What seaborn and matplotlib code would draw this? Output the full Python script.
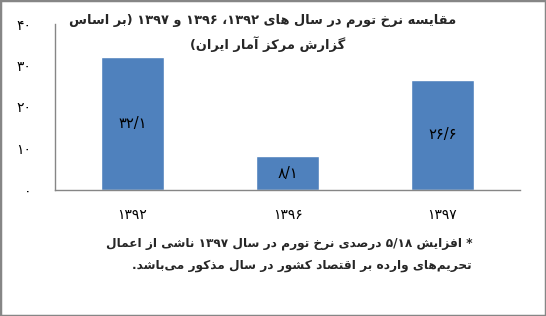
import re
import matplotlib
matplotlib.use("Agg")
import matplotlib.pyplot as plt
from matplotlib.patches import Rectangle
import seaborn as sns

# ---------------- data ----------------
years = ["۱۳۹۲", "۱۳۹۶", "۱۳۹۷"]
rates = [32.1, 8.1, 26.6]
y_ticks = [0, 10, 20, 30, 40]
title_lines = ["مقایسه نرخ تورم در سال های ۱۳۹۲، ۱۳۹۶ و ۱۳۹۷ (بر اساس",
               "گزارش مرکز آمار ایران)"]
note_lines = ["* افزایش ۵/۱۸ درصدی نرخ تورم در سال ۱۳۹۷ ناشی از اعمال",
              "تحریم\u200cهای وارده بر اقتصاد کشور در سال مذکور می\u200cباشد."]

# ---------------- Persian shaping (presentation forms) + simple RTL ----------------
FORMS = {
    "\u0627": ("\uFE8D", "\uFE8E", None, None),
    "\u0622": ("\uFE81", "\uFE82", None, None),
    "\u0628": ("\uFE8F", "\uFE90", "\uFE91", "\uFE92"),
    "\u067E": ("\uFB56", "\uFB57", "\uFB58", "\uFB59"),
    "\u062A": ("\uFE95", "\uFE96", "\uFE97", "\uFE98"),
    "\u062B": ("\uFE99", "\uFE9A", "\uFE9B", "\uFE9C"),
    "\u062C": ("\uFE9D", "\uFE9E", "\uFE9F", "\uFEA0"),
    "\u0686": ("\uFB7A", "\uFB7B", "\uFB7C", "\uFB7D"),
    "\u062D": ("\uFEA1", "\uFEA2", "\uFEA3", "\uFEA4"),
    "\u062E": ("\uFEA5", "\uFEA6", "\uFEA7", "\uFEA8"),
    "\u062F": ("\uFEA9", "\uFEAA", None, None),
    "\u0630": ("\uFEAB", "\uFEAC", None, None),
    "\u0631": ("\uFEAD", "\uFEAE", None, None),
    "\u0632": ("\uFEAF", "\uFEB0", None, None),
    "\u0698": ("\uFB8A", "\uFB8B", None, None),
    "\u0633": ("\uFEB1", "\uFEB2", "\uFEB3", "\uFEB4"),
    "\u0634": ("\uFEB5", "\uFEB6", "\uFEB7", "\uFEB8"),
    "\u0635": ("\uFEB9", "\uFEBA", "\uFEBB", "\uFEBC"),
    "\u0636": ("\uFEBD", "\uFEBE", "\uFEBF", "\uFEC0"),
    "\u0637": ("\uFEC1", "\uFEC2", "\uFEC3", "\uFEC4"),
    "\u0638": ("\uFEC5", "\uFEC6", "\uFEC7", "\uFEC8"),
    "\u0639": ("\uFEC9", "\uFECA", "\uFECB", "\uFECC"),
    "\u063A": ("\uFECD", "\uFECE", "\uFECF", "\uFED0"),
    "\u0641": ("\uFED1", "\uFED2", "\uFED3", "\uFED4"),
    "\u0642": ("\uFED5", "\uFED6", "\uFED7", "\uFED8"),
    "\u06A9": ("\uFB8E", "\uFB8F", "\uFB90", "\uFB91"),
    "\u06AF": ("\uFB92", "\uFB93", "\uFB94", "\uFB95"),
    "\u0644": ("\uFEDD", "\uFEDE", "\uFEDF", "\uFEE0"),
    "\u0645": ("\uFEE1", "\uFEE2", "\uFEE3", "\uFEE4"),
    "\u0646": ("\uFEE5", "\uFEE6", "\uFEE7", "\uFEE8"),
    "\u0648": ("\uFEED", "\uFEEE", None, None),
    "\u0647": ("\uFEE9", "\uFEEA", "\uFEEB", "\uFEEC"),
    "\u06CC": ("\uFBFC", "\uFBFD", "\uFBFE", "\uFBFF"),
}


def shape(s):
    out = []
    n = len(s)
    for i, c in enumerate(s):
        if c not in FORMS:
            out.append(c)
            continue
        prev = s[i - 1] if i > 0 else None
        nxt = s[i + 1] if i + 1 < n else None
        iso, fin, ini, med = FORMS[c]
        jp = prev in FORMS and FORMS[prev][2] is not None
        jn = ini is not None and nxt in FORMS
        if jp and jn:
            out.append(med)
        elif jp:
            out.append(fin)
        elif jn:
            out.append(ini)
        else:
            out.append(iso)
    return "".join(out).replace("\u200c", "")


MIRROR = {"(": ")", ")": "("}


def rtl(s):
    shaped = shape(s)
    toks = re.findall(r"[0-9\u06F0-\u06F9]+(?:[/.][0-9\u06F0-\u06F9]+)*|.", shaped, flags=re.S)
    toks = [MIRROR.get(t, t) for t in toks]
    return "".join(reversed(toks))


FA_DIGITS = str.maketrans("0123456789.", "۰۱۲۳۴۵۶۷۸۹/")


def fa_num(v, fmt="{:g}"):
    return fmt.format(v).translate(FA_DIGITS)


# ---------------- plot ----------------
sns.set_theme(style="white")
plt.rcParams["font.family"] = ["DejaVu Sans"]

grey = "#868686"
fig = plt.figure(figsize=(5.46, 3.16), dpi=100)
ax = fig.add_axes([55 / 546, 1 - 190 / 316, 465 / 546, 166 / 316])

sns.barplot(x=years, y=rates, color="#4F81BD", saturation=1, width=0.41, ax=ax)

ax.set_xlim(-0.5, len(years) - 0.5)
ax.set_ylim(y_ticks[0], y_ticks[-1])
ax.set_yticks(y_ticks)
ax.set_yticklabels([fa_num(t) for t in y_ticks], fontsize=10, color="black")
ax.set_xticks(range(len(years)))
ax.set_xticklabels([rtl(y) for y in years], fontsize=10, color="black")
ax.set_xticks([i - 0.5 for i in range(len(years) + 1)], minor=True)
ax.tick_params(axis="x", which="major", length=0, pad=13)
ax.tick_params(axis="x", which="minor", length=4, width=1, color=grey, direction="out")
ax.tick_params(axis="y", which="major", length=4, width=1, color=grey, direction="out", pad=13)
ax.set_xlabel("")
ax.set_ylabel("")
for side in ("top", "right"):
    ax.spines[side].set_visible(False)
for side in ("left", "bottom"):
    ax.spines[side].set_color(grey)
    ax.spines[side].set_linewidth(1)
ax.grid(False)

ax.bar_label(ax.containers[0], labels=[fa_num(v, "{:.1f}") for v in rates],
             label_type="center", fontsize=10.5, color="black")

fig.text(263 / 546, 1 - 20 / 316, rtl(title_lines[0]), ha="center", va="center",
         fontsize=9.4, fontweight="bold")
fig.text(268 / 546, 1 - 44 / 316, rtl(title_lines[1]), ha="center", va="center",
         fontsize=9.4, fontweight="bold")

fig.text(472 / 546, 1 - 243 / 316, rtl(note_lines[0]), ha="right", va="center",
         fontsize=8.7, fontweight="bold")
fig.text(472 / 546, 1 - 265 / 316, rtl(note_lines[1]), ha="right", va="center",
         fontsize=8.7, fontweight="bold")

fig.patches.append(Rectangle((0, 0), 1, 1, transform=fig.transFigure, fill=False,
                             edgecolor=grey, linewidth=2.5, zorder=10))

fig.savefig("out.png", dpi=100, facecolor="white")
